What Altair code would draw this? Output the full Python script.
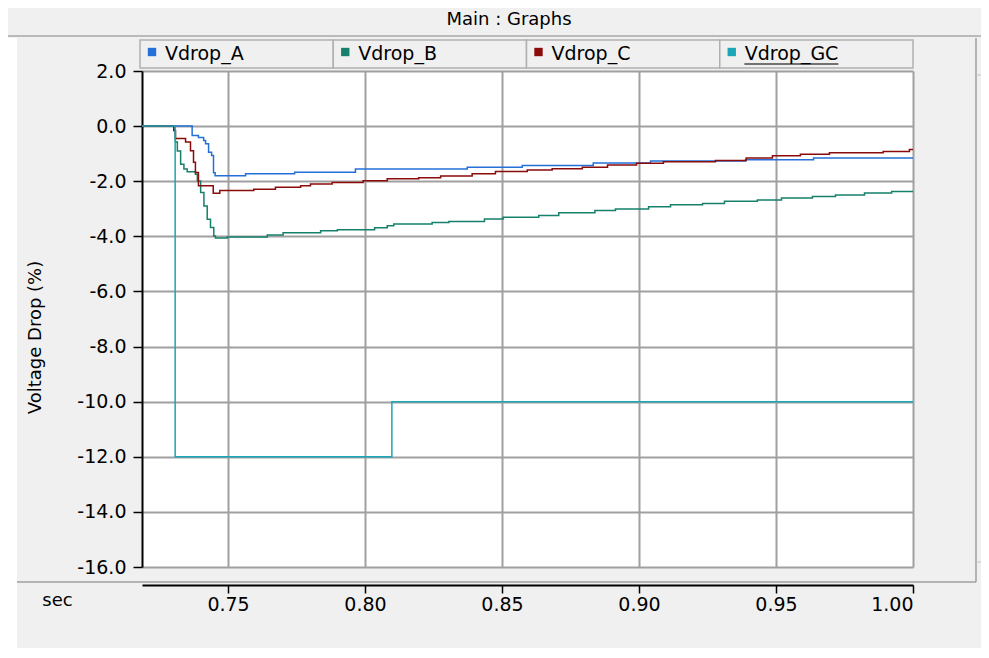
import altair as alt
import pandas as pd

# ---------------- data ----------------
series_names = ["Vdrop_A", "Vdrop_B", "Vdrop_C", "Vdrop_GC"]
series_colors = ["#2470d8", "#16806a", "#8b0a0a", "#1aa6b7"]

t_a = [0.7186, 0.7369, 0.7392, 0.7411, 0.7418, 0.7429, 0.7440, 0.7447, 0.7453, 0.7564,
       0.7743, 0.7965, 0.8373, 0.8574, 0.8833, 0.9042, 0.9389, 0.9637, 1.0]
v_a = [0.0, -0.34, -0.41, -0.52, -0.64, -0.95, -1.07, -1.69, -1.80, -1.73,
       -1.67, -1.56, -1.49, -1.43, -1.34, -1.27, -1.22, -1.16, -1.16]

t_b = [0.7186, 0.7304, 0.7308, 0.7315, 0.7327, 0.7339, 0.7351, 0.7381, 0.7388, 0.7400,
       0.7412, 0.7424, 0.7436, 0.7448, 0.7454, 0.7497, 0.7643, 0.7701, 0.7838, 0.7899,
       0.8035, 0.8081, 0.8105, 0.8245, 0.8306, 0.8436, 0.8504, 0.8634, 0.8707, 0.8839,
       0.8914, 0.9035, 0.9115, 0.9232, 0.9312, 0.9432, 0.9520, 0.9633, 0.9717, 0.9823,
       0.9922, 1.0]
v_b = [0.0, -0.17, -0.58, -0.90, -1.38, -1.56, -1.66, -1.75, -1.99, -2.41,
       -2.90, -3.38, -3.68, -3.99, -4.06, -4.02, -3.95, -3.87, -3.80, -3.76,
       -3.69, -3.62, -3.55, -3.50, -3.46, -3.37, -3.31, -3.24, -3.14, -3.06,
       -3.01, -2.93, -2.85, -2.81, -2.73, -2.68, -2.61, -2.55, -2.50, -2.43,
       -2.37, -2.37]

t_c = [0.7186, 0.7302, 0.7308, 0.7345, 0.7363, 0.7374, 0.7381, 0.7392, 0.7446, 0.7470,
       0.7594, 0.7673, 0.7765, 0.7801, 0.7880, 0.7993, 0.8081, 0.8196, 0.8276, 0.8391,
       0.8476, 0.8592, 0.8683, 0.8793, 0.8885, 0.8991, 0.9089, 0.9279, 0.9391, 0.9487,
       0.9589, 0.9695, 0.9891, 0.9987, 1.0]
v_c = [0.0, -0.16, -0.45, -0.58, -0.89, -1.31, -1.68, -2.16, -2.44, -2.34,
       -2.29, -2.22, -2.16, -2.10, -2.05, -1.98, -1.91, -1.87, -1.81, -1.73,
       -1.65, -1.59, -1.55, -1.49, -1.41, -1.35, -1.29, -1.25, -1.16, -1.08,
       -1.02, -0.97, -0.92, -0.85, -0.85]

t_gc = [0.7186, 0.7307, 0.8098, 1.0]
v_gc = [0.0, -12.0, -10.0, -10.0]

x_ticks = [0.75, 0.80, 0.85, 0.90, 0.95, 1.00]
y_ticks = [2.0, 0.0, -2.0, -4.0, -6.0, -8.0, -10.0, -12.0, -14.0, -16.0]
x_domain = [0.7186, 1.0]
y_domain = [-16.0, 2.0]

title_text = "Main : Graphs"
x_title = "sec"
y_title = "Voltage Drop (%)"

# ---------------- build ----------------
FONT = "DejaVu Sans"
W, H = 771, 496
GRID = "#a0a0a0"
PANEL = "#f0f0f0"

series_t = [t_a, t_b, t_c, t_gc]
series_v = [v_a, v_b, v_c, v_gc]

color_scale = alt.Scale(domain=series_names, range=series_colors)

x_enc = alt.X(
    "t:Q",
    scale=alt.Scale(domain=x_domain, nice=False, zero=False),
    axis=alt.Axis(
        values=x_ticks, format=".2f", title=x_title, offset=18,
        domainColor="black", domainWidth=2, tickColor="black", tickSize=8, tickWidth=1.5,
        labelFont=FONT, labelFontSize=19, labelColor="black", labelPadding=2,
        titleFont=FONT, titleFontSize=18, titleFontWeight="normal", titleColor="black",
        titleX=-85, titleY=15, titleAlign="center", titleBaseline="middle",
        grid=True, gridColor=GRID, gridWidth=2,
    ),
)
y_enc = alt.Y(
    "v:Q",
    scale=alt.Scale(domain=y_domain, nice=False, zero=False),
    axis=alt.Axis(
        values=y_ticks,
        labelExpr="replace(format(datum.value, '.1f'), '\u2212', '-')",
        title=y_title,
        domainColor="black", domainWidth=2, tickColor="black", tickSize=9, tickWidth=1.5,
        labelFont=FONT, labelFontSize=19, labelColor="black", labelPadding=7,
        titleFont=FONT, titleFontSize=18, titleFontWeight="normal", titleColor="black",
        titleX=-107, titleY=266, titleAngle=270, titleAlign="center", titleBaseline="middle",
        grid=True, gridColor=GRID, gridWidth=2,
    ),
)

line_layers = []
for name, ts, vs in zip(series_names, series_t, series_v):
    df = pd.DataFrame({"t": ts, "v": vs, "series": name})
    line_layers.append(
        alt.Chart(df).mark_line(interpolate="step-after", strokeWidth=1.5, clip=True).encode(
            x=x_enc, y=y_enc,
            color=alt.Color("series:N", scale=color_scale, legend=None),
            order="t:Q",
        )
    )
lines = alt.layer(*line_layers)

# custom button legend (band scale over the series names)
leg_df = pd.DataFrame({"series": series_names})
band = alt.Scale(type="band", domain=series_names, range=[-2, W], paddingInner=0, paddingOuter=0)
lx = alt.X("series:N", scale=band, axis=None, bandPosition=0)
lx_rect = alt.X("series:N", scale=band, axis=None)
leg_color = alt.Color("series:N", scale=color_scale, legend=None)

leg_buttons = alt.Chart(leg_df).mark_rect(fill=PANEL, stroke="#b0b0b0", strokeWidth=1.5).encode(
    x=lx_rect, y=alt.value(-31), y2=alt.value(-3)
)
leg_squares = alt.Chart(leg_df).mark_square(size=70, opacity=1, filled=True, xOffset=12).encode(
    x=lx, y=alt.value(-19), color=leg_color
)
leg_text = alt.Chart(leg_df).mark_text(
    align="left", baseline="middle", dx=25, font=FONT, fontSize=19, color="black"
).encode(x=lx, y=alt.value(-17), text="series:N")
leg_under = alt.Chart(leg_df).transform_filter(
    alt.datum.series == series_names[-1]
).mark_tick(orient="horizontal", size=94, thickness=1.5, color="black", xOffset=-25).encode(
    x=lx, y=alt.value(-7)
)
legend = alt.layer(leg_buttons, leg_squares, leg_text, leg_under)

# window chrome
one = pd.DataFrame({"k": [0]})
chrome_title = alt.Chart(one).mark_text(
    text=title_text, font=FONT, fontSize=18, color="black", align="center", baseline="middle"
).encode(x=alt.value(367), y=alt.value(-51))
chrome_topline = alt.Chart(one).mark_rule(color="#a8a8a8", strokeWidth=1.5).encode(
    x=alt.value(-134), x2=alt.value(839), y=alt.value(-35)
)
chrome_left = alt.Chart(one).mark_rect(color="white").encode(
    x=alt.value(-134), x2=alt.value(-125), y=alt.value(-33), y2=alt.value(580)
)
chrome_sep = alt.Chart(one).mark_rule(color="#a0a0a0", strokeWidth=1.5).encode(
    x=alt.value(-125), x2=alt.value(834), y=alt.value(511)
)
chrome_scroll = alt.Chart(one).mark_rule(color="#a0a0a0", strokeWidth=1.5).encode(
    x=alt.value(834), y=alt.value(-33), y2=alt.value(511)
)
chrome_btn_top = alt.Chart(one).mark_rule(color="#c0c0c0", strokeWidth=1).encode(
    x=alt.value(834), x2=alt.value(839), y=alt.value(4)
)
chrome_btn_bot = alt.Chart(one).mark_rule(color="#c0c0c0", strokeWidth=1).encode(
    x=alt.value(834), x2=alt.value(839), y=alt.value(491)
)

chart = alt.layer(
    chrome_left, chrome_title, chrome_topline, chrome_sep, chrome_scroll,
    chrome_btn_top, chrome_btn_bot,
    lines, legend,
).resolve_scale(x="independent").properties(
    width=W, height=H,
    autosize=alt.AutoSizeParams(type="none"),
    padding={"left": 134, "top": 63, "right": 68, "bottom": 81},
    background=PANEL,
).configure_view(fill="white", stroke="transparent")

chart.save("out.html", embed_options={"renderer": "svg", "actions": False})
